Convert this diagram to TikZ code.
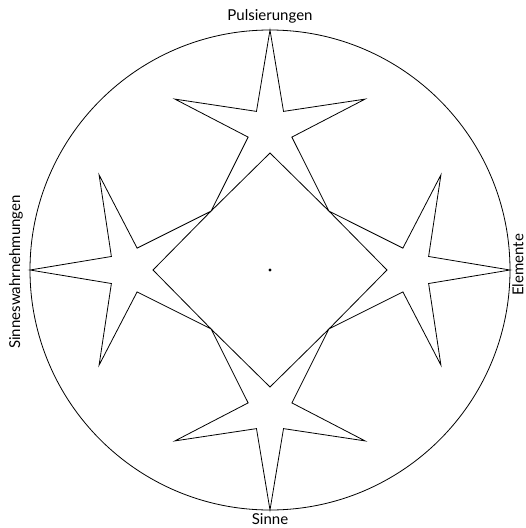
\documentclass[tikz,border=0pt]{standalone}
\usepackage{fontspec}
\usetikzlibrary{calc}
\setmainfont{Lato}
\begin{document}
\begin{tikzpicture}[x=1pt,y=1pt,line width=0.8pt,line join=miter,
  lbl/.style={font=\fontsize{15}{17}\selectfont,inner sep=0pt}]
\useasboundingbox (0,0) rectangle (526,-528);
\coordinate (O) at (270,-270);
\draw (O) circle[radius=240];
\foreach \a in {90,180,270,0}{
  \begin{scope}[shift={(O)},rotate=\a]
    \draw[shift={(140,0)}] (0:100) -- (36:23) -- (72:100) -- (108:23) -- (144:100)
      -- (180:23) -- (216:100) -- (252:23) -- (288:100) -- (324:23) -- cycle;
  \end{scope}
}
\fill (O) circle[radius=1.6];
\coordinate (T) at (270,-30);
\coordinate (B) at (270,-510);
\coordinate (L) at (30,-270);
\coordinate (R) at (510,-270);
\node[lbl,anchor=base] (tl) at ($(T)+(0,10)$) {Pulsierungen};
\node[lbl,anchor=north] (bl) at ($(B)+(0,-3)$) {Sinne};
\node[lbl,rotate=90,anchor=base] (ll) at ($(L)+(-10,-2)$) {Sinneswahrnehmungen};
\node[lbl,rotate=90,anchor=north] (rl) at ($(R)+(2,5)$) {Elemente};
\end{tikzpicture}
\end{document}
